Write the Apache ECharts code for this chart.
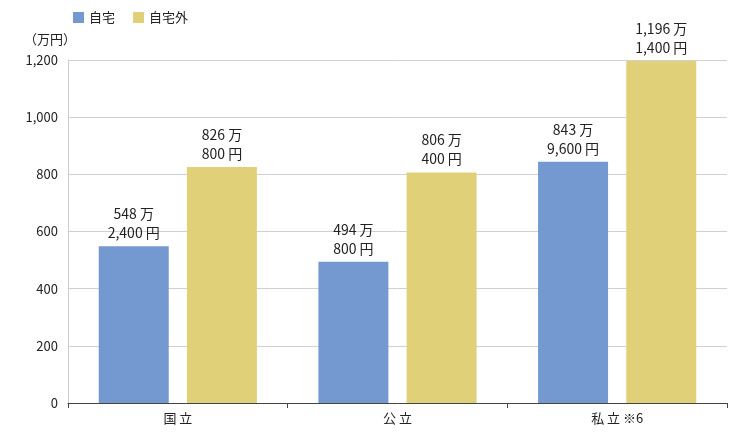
<!DOCTYPE html>
<html><head><meta charset="utf-8">
<script src="https://cdn.jsdelivr.net/npm/echarts@6/dist/echarts.min.js"></script>
<style>html,body{margin:0;padding:0;background:#fff}#c{width:741px;height:435px}</style>
</head><body><div id="c"></div>
<script>
const categories = ['国 立', '公 立', '私 立 ※6'];
const homeValues = [548.24, 494.08, 843.96];
const awayValues = [826.08, 806.04, 1196.14];
const homeLabels = ['548 万\n2,400 円', '494 万\n800 円', '843 万\n9,600 円'];
const awayLabels = ['826 万\n800 円', '806 万\n400 円', '1,196 万\n1,400 円'];
const yTicks = [0, 200, 400, 600, 800, 1000, 1200];
const font = '"Noto Sans CJK JP", "Noto Sans", sans-serif';
const lab = arr => ({show: true, position: 'top', distance: 4, color: '#222', fontSize: 14, lineHeight: 19, fontFamily: font,
  formatter: p => arr[p.dataIndex]});
const chart = echarts.init(document.getElementById('c'));
chart.setOption({
  animation: false,
  textStyle: {fontFamily: font},
  legend: {left: 68, top: 6, itemWidth: 11, itemHeight: 11, itemGap: 18, icon: 'rect',
    textStyle: {fontSize: 13, color: '#222'}, data: ['自宅', '自宅外']},
  grid: {left: 68, right: 14, top: 60, bottom: 32},
  xAxis: {type: 'category', data: categories,
    axisLine: {lineStyle: {color: '#444'}}, axisTick: {show: true, lineStyle: {color: '#444'}},
    axisLabel: {color: '#222', fontSize: 13, margin: 9}},
  yAxis: {type: 'value', min: 0, max: 1200, interval: 200, name: '（万円）',
    nameLocation: 'end', nameGap: 14, nameTextStyle: {color: '#222', fontSize: 13, align: 'right', padding: [0, -8, 0, 0]},
    axisLine: {show: true, lineStyle: {color: '#ccc'}}, axisTick: {show: false},
    axisLabel: {color: '#222', fontSize: 13, margin: 10, formatter: v => yTicks.includes(v) ? v.toLocaleString('en-US') : ''},
    splitLine: {lineStyle: {color: '#d0d0d0'}}},
  series: [
    {name: '自宅', type: 'bar', data: homeValues, barWidth: 70, barGap: '26%', itemStyle: {color: '#7498d0'}, label: lab(homeLabels)},
    {name: '自宅外', type: 'bar', data: awayValues, barWidth: 70, itemStyle: {color: '#e0d178'}, label: lab(awayLabels)}
  ]
});
</script></body></html>
